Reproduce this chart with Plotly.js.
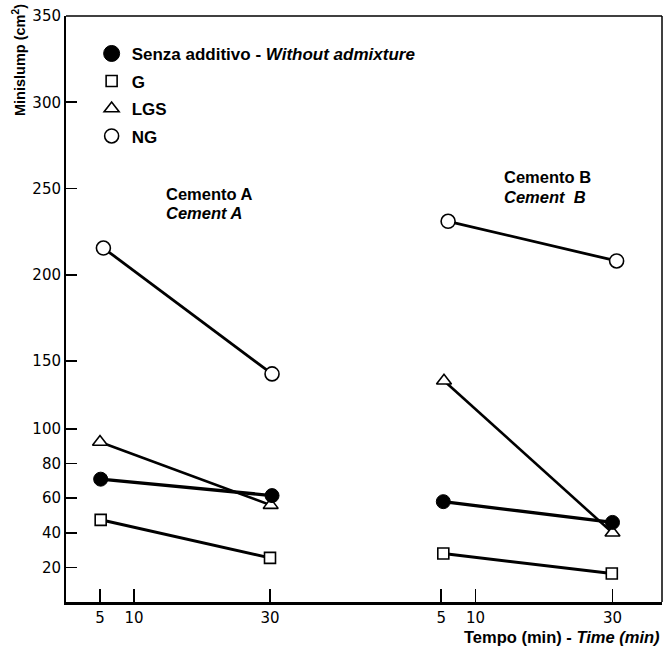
<!DOCTYPE html>
<html>
<head>
<meta charset="utf-8">
<script src="https://cdn.plot.ly/plotly-3.0.1.min.js"></script>
<style>html,body{margin:0;padding:0;background:#fff;}#chart{width:667px;height:648px;}</style>
</head>
<body>
<div id="chart"></div>
<script>
// ---- data (minislump in cm², time in minutes) ----
const seriesNames = ["Senza additivo - <i>Without admixture</i>", "G", "LGS", "NG"];

// Cemento A
const timeA_ctrl = [5.1, 30.3];
const slumpA_ctrl = [71, 61.5];
const timeA_G = [5.1, 30];
const slumpA_G = [47.5, 25.5];
const timeA_LGS = [5, 30.1];
const slumpA_LGS = [92.5, 56];
const timeA_NG = [5.5, 30.3];
const slumpA_NG = [215.5, 140.5];

// Cemento B
const timeB_ctrl = [5.3, 30];
const slumpB_ctrl = [58, 46];
const timeB_G = [5.3, 29.9];
const slumpB_G = [28, 16.5];
const timeB_LGS = [5.4, 30];
const slumpB_LGS = [135.5, 40];
const timeB_NG = [6, 30.6];
const slumpB_NG = [231, 208];

// tick labels
const yTickValues = [20, 40, 60, 80, 100, 150, 200, 250, 300, 350];
const yTickLabels = ["20", "40", "60", "80", "100", "150", "200", "250", "300", "350"];
const xTickValues = [5, 10, 30];
const xTickLabels = ["5", "10", "30"];

// ---- broken (piecewise) value scale of the original y axis ----
const yKnots = [0, 100, 150, 350];
const yScaleKnots = [0, 173, 241, 586];
function yMap(v) {
  for (let i = 1; i < yKnots.length; i++) {
    if (v <= yKnots[i] || i === yKnots.length - 1) {
      const t = (v - yKnots[i - 1]) / (yKnots[i] - yKnots[i - 1]);
      return yScaleKnots[i - 1] + t * (yScaleKnots[i] - yScaleKnots[i - 1]);
    }
  }
}
const mapArr = a => a.map(yMap);

const styles = {
  ctrl: {symbol: "circle", size: 14, color: "#000", line: {color: "#000", width: 1}},
  G:    {symbol: "square", size: 11, color: "#fff", line: {color: "#000", width: 1.6}},
  LGS:  {symbol: "triangle-up", size: 13, color: "#fff", line: {color: "#000", width: 1.6}},
  NG:   {symbol: "circle", size: 14, color: "#fff", line: {color: "#000", width: 1.6}}
};
const lineW = {ctrl: 3.4, G: 3, LGS: 2.6, NG: 2.8};

function tr(x, y, key, xa) {
  return {
    x: x, y: mapArr(y), xaxis: xa, yaxis: "y",
    mode: "lines+markers", type: "scatter", showlegend: false, hoverinfo: "skip",
    line: {color: "#000", width: lineW[key]},
    marker: styles[key], cliponaxis: false
  };
}

const traces = [
  tr(timeA_G, slumpA_G, "G", "x"),
  tr(timeA_LGS, slumpA_LGS, "LGS", "x"),
  tr(timeA_NG, slumpA_NG, "NG", "x"),
  tr(timeA_ctrl, slumpA_ctrl, "ctrl", "x"),
  tr(timeB_G, slumpB_G, "G", "x2"),
  tr(timeB_LGS, slumpB_LGS, "LGS", "x2"),
  tr(timeB_NG, slumpB_NG, "NG", "x2"),
  tr(timeB_ctrl, slumpB_ctrl, "ctrl", "x2")
];

// legend-only entries (markers only, like the original key)
const legendKeys = ["ctrl", "G", "LGS", "NG"];
legendKeys.forEach((k, i) => {
  const m = Object.assign({}, styles[k]);
  if (k === "ctrl") m.size = 16;
  traces.push({
    x: [null], y: [null], xaxis: "x", yaxis: "y", type: "scatter", mode: "markers",
    name: seriesNames[i], marker: m, showlegend: true, legendgroup: "g" + i
  });
});

const fontTick = {family: "DejaVu Sans", size: 15, color: "#000"};
const fontBold = {family: "Liberation Sans, Arial, sans-serif", size: 16.5, color: "#000", weight: "bold"};
const fontLegend = {family: "Liberation Sans, Arial, sans-serif", size: 17, color: "#000", weight: "bold"};

const splitA = 341 / 596;

const layout = {
  width: 667, height: 648,
  margin: {l: 66, r: 5, t: 16, b: 46, pad: 0},
  paper_bgcolor: "#fff", plot_bgcolor: "#fff",
  showlegend: true,
  legend: {
    x: 0.043, xanchor: "left", y: 0.966, yanchor: "top",
    font: fontLegend, bgcolor: "rgba(0,0,0,0)", borderwidth: 0,
    tracegroupgap: 2.4, traceorder: "grouped", itemclick: false
  },
  xaxis: {
    domain: [0, splitA], range: [0, 341 / 6.8], anchor: "y",
    showgrid: false, zeroline: false, showline: true, linecolor: "#000", linewidth: 2.5,
    ticks: "inside", ticklen: 13, tickwidth: 1.6, tickcolor: "#000",
    tickvals: xTickValues, ticktext: xTickLabels, tickfont: fontTick
  },
  xaxis2: {
    domain: [splitA, 1], range: [0, 255 / 6.85], anchor: "y",
    showgrid: false, zeroline: false, showline: true, linecolor: "#000", linewidth: 2.5,
    ticks: "inside", ticklen: 13, tickwidth: 1.6, tickcolor: "#000",
    tickvals: xTickValues, ticktext: xTickLabels, tickfont: fontTick
  },
  yaxis: {
    range: [0, 586], anchor: "x",
    showgrid: false, zeroline: false, showline: true, linecolor: "#000", linewidth: 2,
    ticks: "inside", ticklen: 11, tickwidth: 1.6, tickcolor: "#000",
    tickvals: yTickValues.map(yMap), ticktext: yTickLabels, tickfont: fontTick
  },
  shapes: [
    {type: "line", xref: "paper", yref: "paper", x0: 0, x1: 1, y0: 1, y1: 1, line: {color: "#000", width: 1.5}},
    {type: "line", xref: "paper", yref: "paper", x0: 1, x1: 1, y0: 0, y1: 1, line: {color: "#000", width: 1.5}}
  ],
  annotations: [
    {text: "Minislump (cm<sup>2</sup>)", xref: "paper", yref: "paper",
     x: -47 / 596, y: (602 - 60) / 586, xanchor: "center", yanchor: "middle",
     textangle: -90, showarrow: false,
     font: {family: "Liberation Sans, Arial, sans-serif", size: 14.5, color: "#000", weight: "bold"}},
    {text: "Tempo (min) - <i>Time (min)</i>", xref: "paper", yref: "paper",
     x: 1, y: -35 / 586, xanchor: "right", yanchor: "middle", showarrow: false, font: fontBold},
    {text: "Cemento A", xref: "x", yref: "y", x: (164 - 66) / 6.8, y: 602 - 194,
     xanchor: "left", yanchor: "middle", showarrow: false, font: fontBold},
    {text: "<i>Cement A</i>", xref: "x", yref: "y", x: (164 - 66) / 6.8, y: 602 - 213,
     xanchor: "left", yanchor: "middle", showarrow: false, font: fontBold},
    {text: "Cemento B", xref: "x2", yref: "y", x: (502 - 407) / 6.85, y: 602 - 177,
     xanchor: "left", yanchor: "middle", showarrow: false, font: fontBold},
    {text: "<i>Cement  B</i>", xref: "x2", yref: "y", x: (502 - 407) / 6.85, y: 602 - 197,
     xanchor: "left", yanchor: "middle", showarrow: false, font: fontBold}
  ]
};

Plotly.newPlot("chart", traces, layout, {staticPlot: true, displayModeBar: false});
</script>
</body>
</html>
